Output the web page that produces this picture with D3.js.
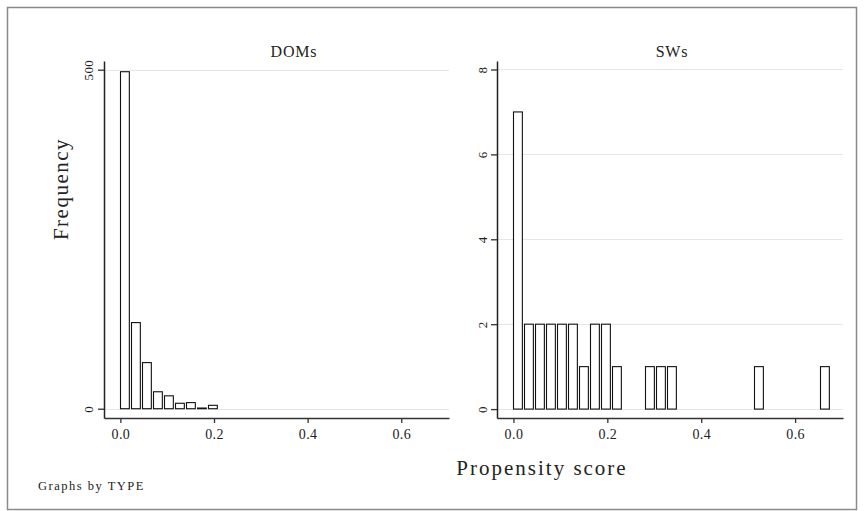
<!DOCTYPE html>
<html>
<head>
<meta charset="utf-8">
<script src="https://cdn.jsdelivr.net/npm/d3@7"></script>
<style>
  body { margin: 0; background: #fff; }
  svg { display: block; }
  text { font-family: "Liberation Serif", "DejaVu Serif", serif; fill: #222; }
</style>
</head>
<body>
<svg id="chart" width="864" height="511"></svg>
<script>
// ---- data ----
const panels = ["DOMs", "SWs"];
const binWidth = 0.0233;
const domBinStarts = [0.0000, 0.0233, 0.0466, 0.0699, 0.0932, 0.1165, 0.1398, 0.1631, 0.1864];
const domCounts    = [497, 127, 68, 25, 19, 8, 9, 1, 5];
const swBinStarts  = [0.0000, 0.0233, 0.0466, 0.0699, 0.0932, 0.1165, 0.1398, 0.1631, 0.1864, 0.2097, 0.2796, 0.3029, 0.3262, 0.5126, 0.6524];
const swCounts     = [7, 2, 2, 2, 2, 2, 1, 2, 2, 1, 1, 1, 1, 1, 1];
const xTicks = [0.0, 0.2, 0.4, 0.6];
const domYTicks = [0, 500];
const swYTicks = [0, 2, 4, 6, 8];
const xTitle = "Propensity score";
const yTitle = "Frequency";
const note = "Graphs by TYPE";

const svg = d3.select("#chart");

// outer frame
svg.append("rect").attr("x", 7.5).attr("y", 7.5).attr("width", 849).attr("height", 502)
  .attr("fill", "#fff").attr("stroke", "#8a8a8a").attr("stroke-width", 1.5);

const plotTop = 61, plotBottom = 418;
const cfg = [
  { name: panels[0], starts: domBinStarts, counts: domCounts, yTicks: domYTicks,
    x0: 104, x1: 449, yDom: [-13.7, 512.8], titleX: 294, labOff: -11 },
  { name: panels[1], starts: swBinStarts, counts: swCounts, yTicks: swYTicks,
    x0: 497, x1: 843, yDom: [-0.21, 8.2], titleX: 672, labOff: -10 }
];

cfg.forEach(p => {
  const x = d3.scaleLinear().domain([-0.035, 0.702]).range([p.x0, p.x1]);
  const y = d3.scaleLinear().domain(p.yDom).range([plotBottom, plotTop]);
  const g = svg.append("g");

  // gridlines
  g.selectAll("line.grid").data(p.yTicks).join("line")
    .attr("x1", p.x0).attr("x2", p.x1)
    .attr("y1", d => Math.round(y(d)) + 0.5).attr("y2", d => Math.round(y(d)) + 0.5)
    .attr("stroke", "#e6e6e6").attr("stroke-width", 1);

  // bars
  g.selectAll("rect.bar").data(p.starts.map((s, i) => ({ s, c: p.counts[i] }))).join("rect")
    .attr("x", d => Math.round(x(d.s)) + 0.5)
    .attr("width", d => x(d.s + binWidth * 0.81) - x(d.s))
    .attr("y", d => y(d.c))
    .attr("height", d => y(0) - y(d.c))
    .attr("fill", "#fff").attr("stroke", "#111").attr("stroke-width", 1.1);

  // x axis
  const xa = g.append("g").attr("transform", `translate(0,${plotBottom})`)
    .call(d3.axisBottom(x).tickValues(xTicks).tickFormat(d3.format(".1f")).tickSize(5).tickSizeOuter(0).tickPadding(6));
  xa.select(".domain").attr("stroke", "#333").attr("stroke-width", 1.5);
  xa.selectAll(".tick line").attr("stroke", "#333").attr("stroke-width", 1.3);
  xa.selectAll("text").style("font-size", "14px").style("letter-spacing", "0.4px").attr("fill", "#2a2a2a");

  // y axis
  const ya = g.append("g").attr("transform", `translate(${p.x0},0)`)
    .call(d3.axisLeft(y).tickValues(p.yTicks).tickSize(6).tickSizeOuter(0));
  ya.select(".domain").attr("stroke", "#222").attr("stroke-width", 1.5);
  ya.selectAll(".tick line").attr("stroke", "#333").attr("stroke-width", 1.3);
  ya.selectAll("text")
    .attr("transform", "rotate(-90)")
    .attr("x", 0).attr("y", p.labOff).attr("dy", 0)
    .style("text-anchor", "middle").style("font-size", "13px").style("letter-spacing", "0.4px").attr("fill", "#2a2a2a");

  // panel title
  g.append("text").attr("x", p.titleX).attr("y", 57).attr("text-anchor", "middle")
    .style("font-size", "16px").style("letter-spacing", "0.8px").text(p.name);
});

// axis titles
svg.append("text").attr("transform", "translate(68,189) rotate(-90)")
  .attr("text-anchor", "middle").style("font-size", "21px").style("letter-spacing", "1.5px").text(yTitle);
svg.append("text").attr("x", 542).attr("y", 475).attr("text-anchor", "middle")
  .style("font-size", "21px").style("letter-spacing", "2px").text(xTitle);
svg.append("text").attr("x", 38).attr("y", 490).style("font-size", "12.5px").style("letter-spacing", "1.5px").text(note);
</script>
</body>
</html>
